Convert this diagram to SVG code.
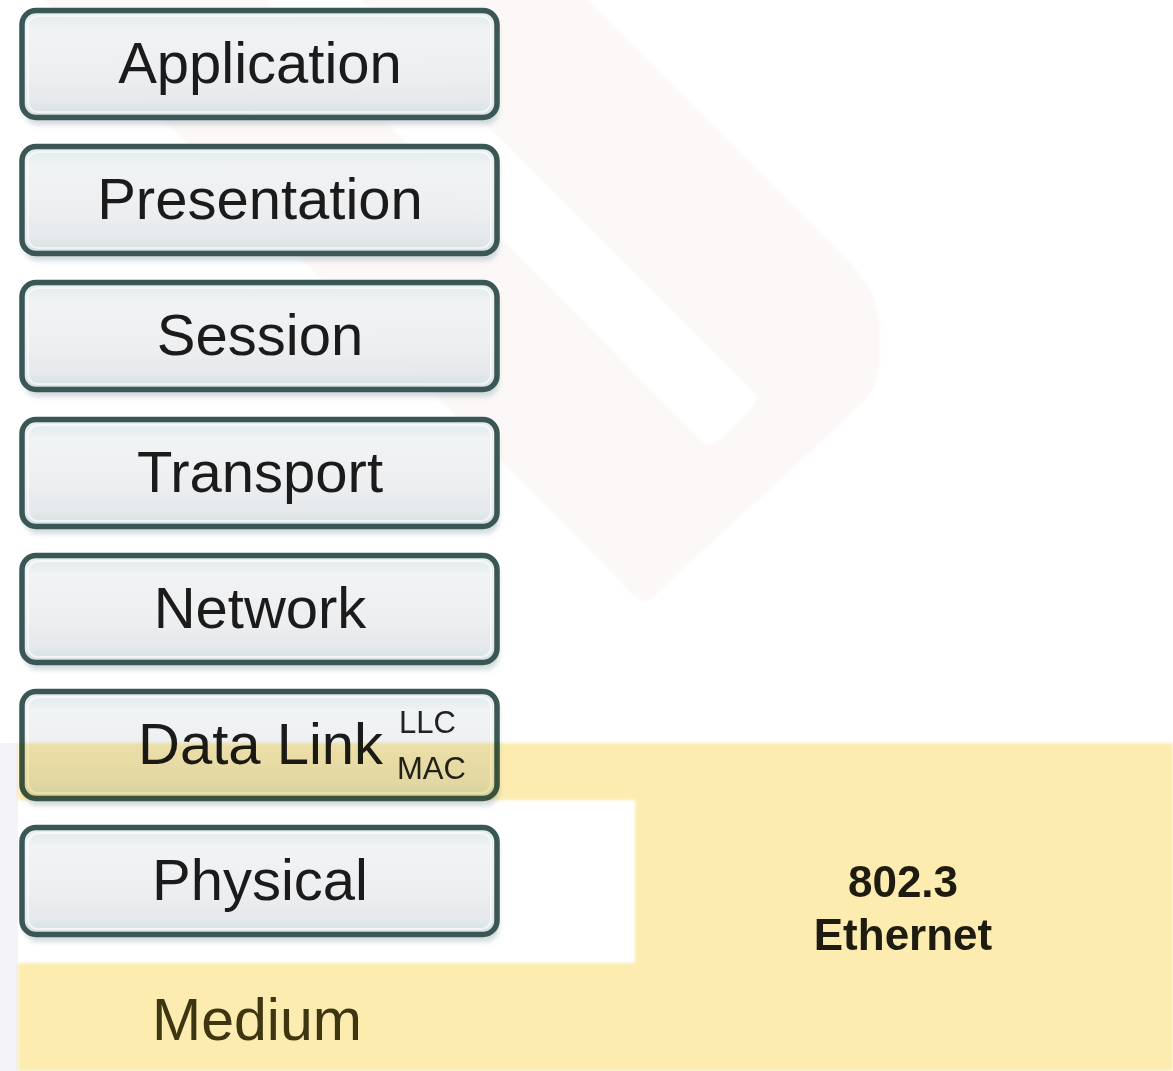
<svg xmlns="http://www.w3.org/2000/svg" width="1173" height="1071" viewBox="0 0 1173 1071">
  <style>
    .layer-box { fill: url(#boxFill); stroke: #3a5755; stroke-width: 5.5; }
    .layer-glint { fill: none; stroke: #ffffff; stroke-opacity: 0.6; stroke-width: 2; }
    .layer-shadow { fill: #a9b9bd; opacity: 0.5; filter: url(#soft); }
    .layer-label { font-family: "Liberation Sans", Arial, Helvetica, sans-serif; font-size: 58px; fill: #1b1b1b; text-anchor: middle; }
    .sub-label { font-family: "Liberation Sans", Arial, Helvetica, sans-serif; font-size: 31px; fill: #222222; }
    .std-label { font-family: "Liberation Sans", Arial, Helvetica, sans-serif; font-size: 44px; font-weight: bold; fill: #1e1c10; text-anchor: middle; }
    .medium-label { font-family: "Liberation Sans", Arial, Helvetica, sans-serif; font-size: 59px; fill: #3d3610; text-anchor: middle; }
  </style>
  <defs>
    <linearGradient id="boxFill" x1="0" y1="0" x2="0" y2="1">
      <stop offset="0" stop-color="#dce9ea" stop-opacity="0.92"/>
      <stop offset="0.18" stop-color="#f4f6f7" stop-opacity="0.88"/>
      <stop offset="0.55" stop-color="#f2f2f4" stop-opacity="0.88"/>
      <stop offset="0.85" stop-color="#e7ebed" stop-opacity="0.9"/>
      <stop offset="1" stop-color="#d3dfe1" stop-opacity="0.95"/>
    </linearGradient>
    <filter id="soft" x="-5%" y="-20%" width="110%" height="140%">
      <feGaussianBlur stdDeviation="2.5"/>
    </filter>
    <filter id="haze" x="-2%" y="-2%" width="104%" height="104%">
      <feGaussianBlur stdDeviation="1.5"/>
    </filter>
  </defs>

  <!-- page -->
  <rect x="0" y="0" width="1173" height="1071" fill="#ffffff"/>

  <!-- faint background emblem -->
  <g id="emblem" filter="url(#haze)">
    <path d="M537,-50 L850,263 Q880,293 880,330 L880,362 Q880,386 860,406 L652,598 Q644,606 636,598 L-5,-50 Z" fill="#fdf8f8"/>
    <path d="M311,-50 L752,391 Q760,399 752,407 L720,439 Q710,449 700,439 L216,-50 Z" fill="#ffffff"/>
  </g>

  <!-- left margin strip beside the media band -->
  <rect x="0" y="743" width="18" height="328" fill="#f4f3f7"/>

  <!-- OSI layer stack -->
  <g id="application">
    <rect class="layer-shadow" x="24" y="18" width="475" height="107" rx="14"/>
    <rect class="layer-box" x="22" y="10.5" width="475" height="107" rx="14"/>
    <rect class="layer-glint" x="28" y="16" width="463" height="96" rx="10"/>
    <text class="layer-label" x="260" y="83">Application</text>
  </g>
  <g id="presentation">
    <rect class="layer-shadow" x="24" y="154" width="475" height="107" rx="14"/>
    <rect class="layer-box" x="22" y="146.5" width="475" height="107" rx="14"/>
    <rect class="layer-glint" x="28" y="152" width="463" height="96" rx="10"/>
    <text class="layer-label" x="260" y="219">Presentation</text>
  </g>
  <g id="session">
    <rect class="layer-shadow" x="24" y="290" width="475" height="107" rx="14"/>
    <rect class="layer-box" x="22" y="282.5" width="475" height="107" rx="14"/>
    <rect class="layer-glint" x="28" y="288" width="463" height="96" rx="10"/>
    <text class="layer-label" x="260" y="355">Session</text>
  </g>
  <g id="transport">
    <rect class="layer-shadow" x="24" y="427" width="475" height="107" rx="14"/>
    <rect class="layer-box" x="22" y="419.5" width="475" height="107" rx="14"/>
    <rect class="layer-glint" x="28" y="425" width="463" height="96" rx="10"/>
    <text class="layer-label" x="260" y="492">Transport</text>
  </g>
  <g id="network">
    <rect class="layer-shadow" x="24" y="563" width="475" height="107" rx="14"/>
    <rect class="layer-box" x="22" y="555.5" width="475" height="107" rx="14"/>
    <rect class="layer-glint" x="28" y="561" width="463" height="96" rx="10"/>
    <text class="layer-label" x="260" y="628">Network</text>
  </g>
  <g id="data-link">
    <rect class="layer-shadow" x="24" y="699" width="475" height="107" rx="14"/>
    <rect class="layer-box" x="22" y="691.5" width="475" height="107" rx="14"/>
    <rect class="layer-glint" x="28" y="697" width="463" height="96" rx="10"/>
    <text class="layer-label" x="138" y="764" style="text-anchor:start">Data Link</text>
    <text class="sub-label" x="399" y="733">LLC</text>
    <text class="sub-label" x="397" y="779">MAC</text>
  </g>
  <g id="physical">
    <rect class="layer-shadow" x="24" y="835" width="475" height="107" rx="14"/>
    <rect class="layer-box" x="22" y="827.5" width="475" height="107" rx="14"/>
    <rect class="layer-glint" x="28" y="833" width="463" height="96" rx="10"/>
    <text class="layer-label" x="260" y="900">Physical</text>
  </g>

  <!-- 802.3 coverage band: data link lower half, physical and medium -->
  <g id="ethernet-band">
    <path d="M18,743 H1173 V1071 H18 Z M18,800 V963 H635 V800 Z" fill="#fcecb0" fill-rule="evenodd" style="mix-blend-mode:multiply" filter="url(#haze)"/>
  </g>

  <g id="medium">
    <text class="medium-label" x="257" y="1040">Medium</text>
  </g>

  <g id="standard">
    <text class="std-label" x="903" y="897">802.3</text>
    <text class="std-label" x="903" y="950">Ethernet</text>
  </g>

  <g id="connectors"/>
</svg>
